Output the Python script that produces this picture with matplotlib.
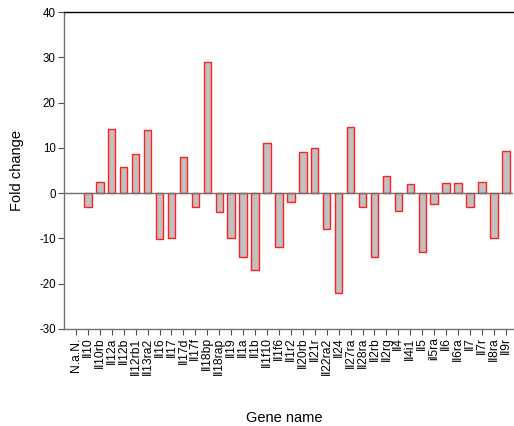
import numpy as np
import matplotlib
matplotlib.use("Agg")
import matplotlib.pyplot as plt

plt.rcParams['font.family'] = ['Liberation Sans', 'DejaVu Sans']
plt.rcParams['axes.unicode_minus'] = False

genes = ["N.a.N.", "Il10", "Il10rb", "Il12a", "Il12b", "Il12rb1", "Il13ra2",
         "Il16", "Il17", "Il17d", "Il17f", "Il18bp", "Il18rap", "Il19", "Il1a",
         "Il1b", "Il1f10", "Il1f6", "Il1r2", "Il20rb", "Il21r", "Il22ra2",
         "Il24", "Il27ra", "Il28ra", "Il2rb", "Il2rg", "Il4", "Il4i1", "Il5",
         "il5ra", "Il6", "Il6ra", "Il7", "Il7r", "Il8ra", "Il9r"]
fold_change = [np.nan, -3.0, 2.5, 14.1, 5.7, 8.7, 14.0,
               -10.2, -10.0, 8.0, -3.0, 29.0, -4.1, -10.0, -14.0,
               -17.0, 11.0, -12.0, -2.0, 9.0, 10.0, -8.0,
               -22.0, 14.5, -3.0, -14.1, 3.7, -4.0, 2.0, -13.0,
               -2.3, 2.35, 2.35, -3.0, 2.55, -10.0, 9.3]
y_ticks = [-30, -20, -10, 0, 10, 20, 30, 40]

fig = plt.figure(figsize=(5.14, 4.26), dpi=100)
ax = fig.add_axes([0.1245, 0.2277, 0.8735, 0.7441])

x = np.arange(len(genes))
ax.bar(x, fold_change, width=0.62, color="#c0c0c0", edgecolor="#ff2020",
       linewidth=1.0, zorder=2)
ax.axhline(0, color="#707070", linewidth=1.0, zorder=3)

ax.set_xlim(-1, len(genes) - 0.4)
ax.set_ylim(-30, 40)
ax.set_yticks(y_ticks)
ax.set_xticks(x)
ax.set_xticklabels(genes, rotation=90, fontsize=8.7)
ax.tick_params(axis='y', labelsize=8.3, length=4, width=0.8, color="#505050", pad=2)
ax.tick_params(axis='x', length=4, width=0.8, color="#505050", pad=2)

ax.spines['right'].set_visible(False)
ax.spines['top'].set_color("black")
ax.spines['top'].set_linewidth(1.0)
for side in ('left', 'bottom'):
    ax.spines[side].set_color("#707070")
    ax.spines[side].set_linewidth(1.0)

ax.set_ylabel("Fold change", fontsize=10.5)
ax.yaxis.set_label_coords(-0.09, 0.5)
fig.text(0.553, 0.019, "Gene name", ha='center', va='center', fontsize=10.5)

fig.savefig("out.png", dpi=100)
